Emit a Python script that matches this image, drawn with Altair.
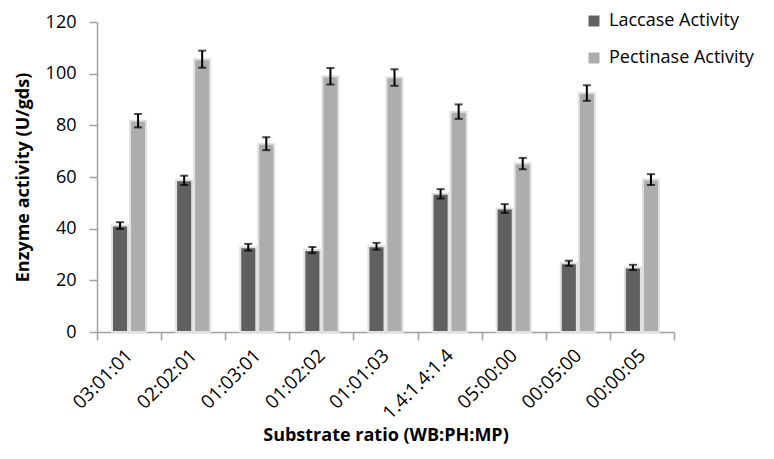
import altair as alt
import pandas as pd

ratios = ["03:01:01", "02:02:01", "01:03:01", "01:02:02", "01:01:03",
          "1.4:1.4:1.4", "05:00:00", "00:05:00", "00:00:05"]
series = ["Laccase Activity", "Pectinase Activity"]
laccase = [41.2, 58.7, 32.8, 31.7, 33.2, 53.5, 47.8, 26.6, 25.0]
laccase_err = [1.3, 1.8, 1.3, 1.2, 1.3, 1.8, 1.7, 1.0, 1.0]
pectinase = [81.8, 105.6, 72.9, 99.0, 98.5, 85.3, 65.2, 92.5, 59.0]
pectinase_err = [2.6, 3.3, 2.5, 3.2, 3.2, 2.8, 2.2, 3.0, 2.1]

rows = []
for i, r in enumerate(ratios):
    for s, vals, errs in ((series[0], laccase, laccase_err), (series[1], pectinase, pectinase_err)):
        rows.append({"ratio": r, "series": s, "value": vals[i],
                     "lo": vals[i] - errs[i], "hi": vals[i] + errs[i]})
df = pd.DataFrame(rows)

FONT = "Open Sans"

x = alt.X("ratio:N", sort=ratios,
          scale=alt.Scale(paddingInner=0, paddingOuter=0),
          axis=alt.Axis(title="Substrate ratio (WB:PH:MP)", labelAngle=-45,
                        labelAlign="right", labelBaseline="middle",
                        labelFontSize=19,
                        tickBand="extent", tickSize=8, labelPadding=12,
                        titlePadding=4))
xoff = alt.XOffset("series:N", sort=series,
                   scale=alt.Scale(paddingInner=0.111, paddingOuter=0.833))

bars = alt.Chart(df).mark_bar(stroke="#e0e0e0", strokeWidth=2).encode(
    x=x,
    xOffset=xoff,
    y=alt.Y("value:Q", scale=alt.Scale(domain=[0, 120], nice=False),
            axis=alt.Axis(title="Enzyme activity (U/gds)", values=list(range(0, 121, 20)),
                          grid=False, tickSize=8, labelPadding=13, titlePadding=13)),
    color=alt.Color("series:N", sort=series,
                    scale=alt.Scale(domain=series, range=["#606060", "#adadad"]),
                    legend=alt.Legend(title=None, orient="none", legendX=488, legendY=-10,
                                      symbolType="square", symbolSize=120,
                                      symbolStrokeWidth=0, labelFontSize=18,
                                      rowPadding=19, labelOffset=6)),
)

rule = alt.Chart(df).mark_rule(color="black", strokeWidth=2).encode(
    x=alt.X("ratio:N", sort=ratios), xOffset=xoff, y="lo:Q", y2="hi:Q")
cap_lo = alt.Chart(df).mark_tick(color="black", orient="horizontal", size=8, thickness=2).encode(
    x=alt.X("ratio:N", sort=ratios), xOffset=xoff, y="lo:Q")
cap_hi = alt.Chart(df).mark_tick(color="black", orient="horizontal", size=8, thickness=2).encode(
    x=alt.X("ratio:N", sort=ratios), xOffset=xoff, y="hi:Q")

chart = alt.layer(bars, rule, cap_lo, cap_hi).properties(
    width=577, height=310,
    autosize=alt.AutoSizeParams(type="none"),
    padding={"left": 89, "top": 14, "right": 92, "bottom": 119},
).configure_view(stroke=None).configure_axis(
    labelFont=FONT, titleFont=FONT, labelFontSize=18, titleFontSize=18,
    titleFontWeight="bold", labelColor="#000", titleColor="#000",
    domainColor="#a0a0a0", tickColor="#a0a0a0", domainWidth=1.5, tickWidth=1.5,
).configure_legend(labelFont=FONT, labelColor="#000")

chart.save("out.html", embed_options={"renderer": "svg", "actions": False})
